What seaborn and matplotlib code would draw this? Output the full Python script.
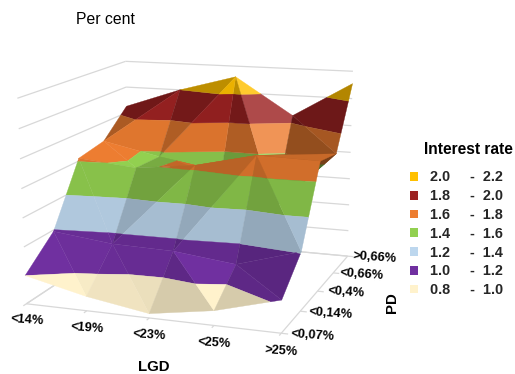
import numpy as np
import matplotlib
matplotlib.use("Agg")
import matplotlib.pyplot as plt
import seaborn as sns
from matplotlib.patches import Patch
from mpl_toolkits.mplot3d import proj3d
from mpl_toolkits.mplot3d.art3d import Line3DCollection, Poly3DCollection

# Interest rate surface, per cent, by LGD bucket (columns) and PD bucket (rows)
lgd_labels = ["<14%", "<19%", "<23%", "<25%", ">25%"]
pd_labels = ["<0,07%", "<0,14%", "<0,4%", "<0,66%", ">0,66%"]
rate_pd_007 = [1.00, 0.90, 0.83, 0.90, 1.02]
rate_pd_014 = [1.19, 1.14, 1.13, 1.08, 1.21]
rate_pd_040 = [1.62, 1.58, 1.63, 1.73, 1.72]
rate_pd_066 = [1.66, 1.57, 1.22, 1.25, 1.68]
rate_pd_top = [1.85, 2.00, 2.12, 1.85, 2.11]
band_edges = [0.8, 1.0, 1.2, 1.4, 1.6, 1.8, 2.0, 2.2]
band_colors = ["#FFF2CC", "#7030A0", "#BDD7EE", "#92D050", "#ED7D31", "#9C2222", "#FFC000"]

W, H = 515, 374
FONT = "Liberation Sans"
GRID = "#D8D8D8"

# Facet lighting per grid cell: (split along the other diagonal, shade of first
# triangle, shade of second triangle). Rows run from low PD to high PD.
cell_lighting = [
    [(False, 1.00, 0.97), (False, 0.94, 0.92), (False, 0.84, 1.00), (False, 0.84, 0.80)],
    [(False, 0.93, 0.93), (True, 0.88, 0.78), (True, 0.88, 0.78), (False, 0.78, 0.88)],
    [(False, 1.00, 1.00), (False, 0.82, 0.88), (False, 0.78, 0.80), (True, 0.84, 0.50)],
    [(True, 0.94, 0.72), (True, 0.92, 0.74), (False, 0.74, 1.15), (False, 0.62, 0.70)],
]

sns.set_theme(style="white", rc={"font.family": FONT})
rates = np.array([rate_pd_007, rate_pd_014, rate_pd_040, rate_pd_066, rate_pd_top])
palette = sns.color_palette(band_colors)
ZMIN, ZMAX = band_edges[0], band_edges[-1]


def camera_matrix():
    """Solve a pinhole camera from box anchors and their canvas positions."""
    anchors = [
        ((0, 0, ZMIN), (26, 302)), ((4, 0, ZMIN), (282, 335)),
        ((4, 4, ZMIN), (347, 255)), ((0, 4, ZMIN), (130, 238)),
        ((0, 0, ZMAX), (18, 99)), ((0, 4, ZMAX), (125, 60)),
        ((4, 4, ZMAX), (353, 72)), ((2, 0, ZMIN), (148, 318)),
        ((4, 2, ZMIN), (318, 290)),
    ]
    rows, rhs = [], []
    for (x, y, z), (u, v) in anchors:
        rows.append([x, y, z, 1, 0, 0, 0, 0, -u * x, -u * y, -u * z])
        rows.append([0, 0, 0, 0, x, y, z, 1, -v * x, -v * y, -v * z])
        rhs += [u, v]
    p = np.linalg.lstsq(np.array(rows, float), np.array(rhs, float), rcond=None)[0]
    return np.array([
        [p[0], p[1], p[2], p[3]],
        [p[4], p[5], p[6], p[7]],
        # depth row: grows away from the viewer, used for painter sorting
        [-0.23, 0.87, -1.0, 5.0],
        [p[8], p[9], p[10], 1.0],
    ])


def clip_band(poly, lo, hi):
    """Clip a 3D polygon to the slab lo <= z <= hi."""
    for limit, sign in ((lo, 1.0), (hi, -1.0)):
        out = []
        for k, a in enumerate(poly):
            b = poly[(k + 1) % len(poly)]
            da, db = sign * (a[2] - limit), sign * (b[2] - limit)
            if da >= 0:
                out.append(a)
            if da * db < 0:
                out.append(a + (b - a) * da / (da - db))
        poly = out
        if not poly:
            return []
    return poly


def shaded(col, f):
    col = np.array(col)
    if f <= 1:
        return tuple(col * f)
    return tuple(col + (1 - col) * (f - 1) * 1.2)


fig = plt.figure(figsize=(W / 100, H / 100), dpi=100, facecolor="white")
ax = fig.add_axes([0, 0, 1, 1], projection="3d", computed_zorder=False)
ax.set_axis_off()
M = camera_matrix()
ax.get_proj = lambda: M
ax.apply_aspect = lambda position=None: None
ax._viewLim.intervalx = (0, W)
ax._viewLim.intervaly = (H, 0)

# Walls and floor
segments = []
for z in band_edges:
    segments += [[(0, 0, z), (0, 4, z)], [(0, 4, z), (4, 4, z)]]
floor = [(0, 0), (4, 0), (4, 4), (0, 4), (0, 0)]
for a, b in zip(floor[:-1], floor[1:]):
    segments.append([(*a, ZMIN), (*b, ZMIN)])
for k in range(5):
    segments.append([(k, 0, ZMIN), (k, -0.1, ZMIN)])
    segments.append([(4, k, ZMIN), (4.1, k, ZMIN)])
ax.add_collection3d(Line3DCollection(segments, colors=GRID, linewidths=0.9, zorder=1),
                    autolim=False)

# Surface facets cut into rate bands
polys, faces = [], []
for j in range(4):
    for i in range(4):
        p00 = np.array([i, j, rates[j, i]])
        p10 = np.array([i + 1, j, rates[j, i + 1]])
        p01 = np.array([i, j + 1, rates[j + 1, i]])
        p11 = np.array([i + 1, j + 1, rates[j + 1, i + 1]])
        other_diagonal, shade_a, shade_b = cell_lighting[j][i]
        if other_diagonal:
            tris = [[p00, p10, p11], [p00, p11, p01]]
        else:
            tris = [[p00, p10, p01], [p10, p11, p01]]
        for tri, f in zip(tris, (shade_a, shade_b)):
            for b, col in enumerate(palette):
                piece = clip_band(tri, band_edges[b], band_edges[b + 1])
                if len(piece) >= 3:
                    polys.append(np.array(piece))
                    faces.append(shaded(col, f))

surface = Poly3DCollection(polys, facecolors=faces, edgecolors=faces, linewidths=0.25, zorder=2)
surface.set_zsort("average")
ax.add_collection3d(surface, autolim=False)


def label_at(x, y, z, name):
    u, v, _ = proj3d.proj_transform(x, y, z, M)
    ax.text2D(u, v, name, transform=ax.transData, ha="center", va="center", rotation=-4,
              fontsize=9.2, fontweight="bold", color="black")


# Category labels
for k, name in enumerate(lgd_labels):
    label_at(k, 0, ZMIN - 0.12, name)
for k, name in enumerate(pd_labels):
    label_at(4.46, k, ZMIN + 0.01, name)

fig.text(76 / W, 1 - 19 / H, "Per cent", fontsize=11.3, va="center", color="black")
fig.text(154 / W, 1 - 367 / H, "LGD", fontsize=10.8, fontweight="bold",
         ha="center", va="center", color="black")
fig.text(392 / W, 1 - 303 / H, "PD", fontsize=10.8, fontweight="bold", rotation=90,
         ha="center", va="center", color="black")
fig.text(424 / W, 1 - 149 / H, "Interest rate", fontsize=11.2, fontweight="bold",
         va="center", color="black")

# Legend, highest band first
handles = [Patch(facecolor=c, edgecolor="none") for c in palette[::-1]]
labels = [f"{band_edges[b]:.1f}     -  {band_edges[b + 1]:.1f}"
          for b in range(len(palette) - 1, -1, -1)]
fig.legend(handles, labels, frameon=False,
           loc="upper left", bbox_to_anchor=(410 / W, 1 - 170.5 / H),
           prop={"family": FONT, "weight": "bold", "size": 10.4},
           handlelength=0.55, handleheight=0.55, handletextpad=0.83,
           labelspacing=0.33, borderpad=0, borderaxespad=0)

fig.savefig("out.png", dpi=100, facecolor="white")
